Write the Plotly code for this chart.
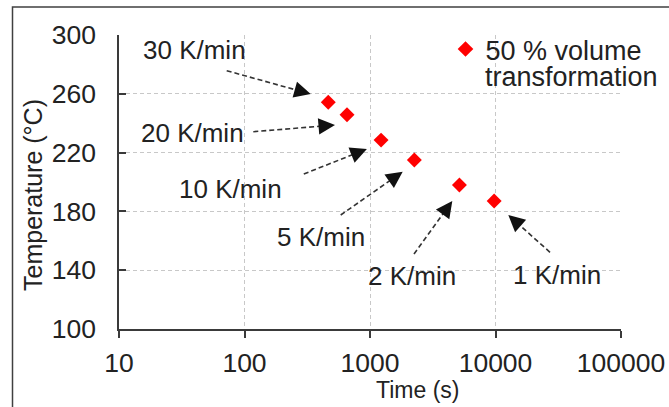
import plotly.graph_objects as go

# ---- data ----
time_s = [465, 656, 1225, 2256, 5157, 9755]
temperature_c = [254.3, 245.7, 228.5, 214.9, 198.0, 187.1]
rate_labels = ["30 K/min", "20 K/min", "10 K/min", "5 K/min", "2 K/min", "1 K/min"]
series_name = "50 % volume"
series_name_2 = "transformation"
x_ticks = [10, 100, 1000, 10000, 100000]
x_tick_labels = ["10", "100", "1000", "10000", "100000"]
y_ticks = [100, 140, 180, 220, 260, 300]

# ---- layout geometry (pixels) ----
W, H = 669, 407
L, R, T, B = 119, 48, 35, 78
PW, PH = W - L - R, H - T - B
BOTTOM = H - B

def px(x):
    return (x - L) / PW

def py(y):
    return (BOTTOM - y) / PH

FONT = "Liberation Sans, Arial, sans-serif"
TXT = "#222222"
AX = "#3a3a3a"
GRID = "#c8c8c8"

fig = go.Figure()
fig.add_trace(go.Scatter(
    x=time_s, y=temperature_c, mode="markers", name=series_name,
    marker=dict(symbol="diamond", size=11.5, color="#ff0000"),
    showlegend=True,
))

# label text positions (center x, center y in pixels)
label_pos = [(194, 49.7), (192.4, 133.3), (230, 188.7), (320.8, 237), (411.5, 276.3), (556.7, 275)]
# arrow tail / tip in pixels
arrows = [((226.7, 70.7), (310.7, 94)),
          ((253.3, 131.7), (335, 125)),
          ((303.8, 174), (366.9, 149)),
          ((340.7, 215), (402.7, 171.7)),
          ((414, 254), (452.3, 201)),
          ((550, 252.3), (508.3, 215))]

annotations = []
shapes = []
HEAD = 16
for (lbl, (cx, cy)), ((tx, ty), (hx, hy)) in zip(zip(rate_labels, label_pos), arrows):
    annotations.append(dict(
        text=lbl, x=px(cx), y=py(cy), xref="paper", yref="paper",
        xanchor="center", yanchor="middle", showarrow=False,
        font=dict(family=FONT, size=26, color=TXT),
    ))
    dx, dy = tx - hx, ty - hy
    d = (dx * dx + dy * dy) ** 0.5
    ux, uy = dx / d, dy / d
    bx, by = hx + ux * (HEAD - 2), hy + uy * (HEAD - 2)
    shapes.append(dict(
        type="line", xref="paper", yref="paper",
        x0=px(tx), y0=py(ty), x1=px(bx), y1=py(by),
        line=dict(color="#333333", width=1.6, dash="5px,3px"),
    ))
    annotations.append(dict(
        text="", x=px(hx), y=py(hy), xref="paper", yref="paper",
        showarrow=True, ax=ux * HEAD, ay=uy * HEAD,
        arrowhead=2, arrowsize=2.2, arrowwidth=1.5, arrowcolor="#111111",
        standoff=0,
    ))

# second legend line
annotations.append(dict(
    text=series_name_2, x=px(483), y=py(77), xref="paper", yref="paper",
    xanchor="left", yanchor="middle", showarrow=False,
    font=dict(family=FONT, size=27, color=TXT),
))
# axis titles
annotations.append(dict(
    text="Time (s)", x=px(417), y=py(390), xref="paper", yref="paper",
    xanchor="center", yanchor="middle", showarrow=False,
    font=dict(family=FONT, size=23, color=TXT),
))
annotations.append(dict(
    text="Temperature (°C)", x=px(33), y=py(195), xref="paper", yref="paper",
    xanchor="center", yanchor="middle", showarrow=False, textangle=-90,
    font=dict(family=FONT, size=25, color=TXT),
))

# outer border
shapes.append(dict(
    type="rect", xref="paper", yref="paper",
    x0=px(12.5), y0=py(7), x1=px(720), y1=py(460),
    line=dict(color="#404040", width=1.5),
))

fig.update_layout(
    width=W, height=H,
    margin=dict(l=L, r=R, t=T, b=B, pad=0, autoexpand=False),
    paper_bgcolor="white", plot_bgcolor="white",
    font=dict(family=FONT, size=25, color=TXT),
    showlegend=True,
    legend=dict(
        x=px(445.5), y=py(25), xanchor="left", yanchor="top",
        bgcolor="rgba(0,0,0,0)", borderwidth=0,
        font=dict(family=FONT, size=27, color=TXT),
        itemsizing="constant",
    ),
    annotations=annotations,
    shapes=shapes,
)
fig.update_xaxes(
    type="log", range=[1, 5],
    tickvals=x_ticks, ticktext=x_tick_labels,
    showline=True, linecolor=AX, linewidth=1.5,
    ticks="outside", ticklen=7, tickwidth=1.5, tickcolor=AX,
    ticklabelstandoff=2,
    showgrid=True, gridcolor=GRID, gridwidth=1, griddash="4px,3px",
    zeroline=False,
    tickfont=dict(family=FONT, size=26.5, color=TXT),
)
fig.update_yaxes(
    range=[100, 300], tickvals=y_ticks,
    showline=True, linecolor=AX, linewidth=1.5,
    ticks="inside", ticklen=7, tickwidth=1.5, tickcolor=AX,
    ticklabelstandoff=16,
    showgrid=True, gridcolor=GRID, gridwidth=1, griddash="4px,3px",
    zeroline=False,
    tickfont=dict(family=FONT, size=26.5, color=TXT),
)

fig.write_html(
    "out.html",
    config={"displayModeBar": False},
    post_script="document.body.style.margin='0px';",
)
